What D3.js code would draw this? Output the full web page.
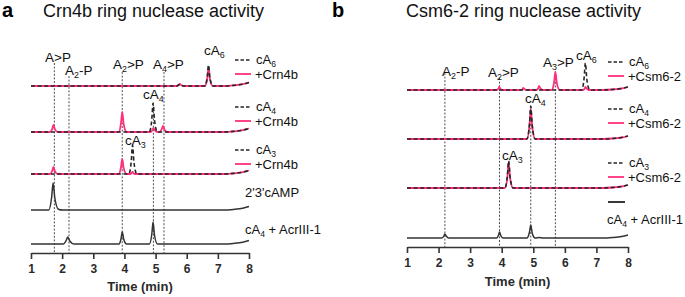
<!DOCTYPE html>
<html>
<head>
<meta charset="utf-8">
<script src="https://cdn.jsdelivr.net/npm/d3@7"></script>
<style>
  body { margin: 0; background: #fff; }
  svg { font-family: "Liberation Sans", Arial, sans-serif; }
</style>
</head>
<body>
<svg id="fig" width="685" height="297"></svg>
<script>
  var width = 685, height = 297
  var pink = "#ff2f7d", dark = "#262626"

  var timeTicks = [1, 2, 3, 4, 5, 6, 7, 8]

  // panel a traces, [time (min), signal]
  var a_cA6 = [[1,0],[5.68,0],[5.75,1.2],[5.78,2],[5.82,1],[5.9,0],[6.58,0],[6.66,9],[6.7,21],[6.745,8],[6.84,0],[7.2,0],[7.5,0.6],[7.8,1.8],[8,3.5]]
  var a_cA6_crn = [[1,0],[5.68,0],[5.75,1.2],[5.78,2],[5.82,1],[5.9,0],[6.58,0],[6.66,8],[6.7,18],[6.745,7],[6.84,0],[7.2,0],[7.5,0.6],[7.8,1.8],[8,3.5]]
  var a_cA4 = [[1,0],[4.8,0],[4.88,13],[4.92,29],[4.965,12],[5.06,0],[7.2,0],[7.5,0.6],[7.8,1.8],[8,3.5]]
  var a_cA4_crn = [[1,0],[1.61,0],[1.68,3],[1.72,7],[1.765,3],[1.85,0],[3.82,0],[3.89,9],[3.93,20],[3.975,8],[4.07,0],[4.84,0],[4.9,2],[4.93,4],[4.97,2],[5.05,0],[5.13,0],[5.2,3],[5.24,6],[5.285,2.5],[5.37,0],[7.2,0],[7.5,0.6],[7.8,1.8],[8,3.5]]
  var a_cA3 = [[1,0],[4.14,0],[4.22,13],[4.26,29],[4.305,12],[4.4,0],[7.2,0],[7.5,0.6],[7.8,1.8],[8,3.5]]
  var a_cA3_crn = [[1,0],[1.61,0],[1.68,3],[1.72,7],[1.765,3],[1.85,0],[3.82,0],[3.89,7],[3.93,15],[3.975,6],[4.07,0],[4.2,0],[4.26,2],[4.32,0],[7.2,0],[7.5,0.6],[7.8,1.8],[8,3.5]]
  var a_camp = [[1,0],[1.57,0],[1.66,12],[1.71,27],[1.765,12],[1.88,0.8],[2.02,0],[7.2,0],[7.5,0.6],[7.8,1.8],[8,3.5]]
  var a_acr = [[1,0],[2.03,0],[2.13,3.5],[2.18,7],[2.245,3],[2.38,0],[3.82,0],[3.89,5],[3.93,12],[3.975,5],[4.07,0],[4.8,0],[4.88,10],[4.92,22],[4.965,9],[5.06,0],[7.2,0],[7.5,0.6],[7.8,1.8],[8,3.5]]

  // panel b traces
  var b_cA6 = [[1,0],[6.53,0],[6.61,12],[6.65,27],[6.695,11],[6.79,0],[7.2,0],[7.5,0.5],[7.8,1.5],[8,3]]
  var b_cA6_csm = [[1,0],[3.84,0],[3.9,1.5],[3.92,3],[3.96,1.2],[4.02,0],[4.6,0],[4.66,1],[4.68,2],[4.72,1],[4.78,0],[5.1,0],[5.16,2],[5.18,4],[5.22,2],[5.3,0],[5.58,0],[5.66,8],[5.7,18],[5.745,7],[5.84,0],[6.57,0],[6.63,1.5],[6.65,3],[6.69,1.5],[6.76,0],[7.2,0],[7.5,0.5],[7.8,1.5],[8,3]]
  var b_cA4 = [[1,0],[4.8,0],[4.88,15],[4.92,33],[4.965,14],[5.06,0],[7.2,0],[7.5,0.5],[7.8,1.5],[8,3]]
  var b_cA4_csm = [[1,0],[4.8,0],[4.88,14],[4.92,30],[4.965,13],[5.06,0],[7.2,0],[7.5,0.5],[7.8,1.5],[8,3]]
  var b_cA3 = [[1,0],[4.1,0],[4.18,12],[4.22,27],[4.265,11],[4.36,0],[7.2,0],[7.5,0.5],[7.8,1.5],[8,3]]
  var b_cA3_csm = [[1,0],[4.1,0],[4.18,11],[4.22,26],[4.265,10],[4.36,0],[7.2,0],[7.5,0.5],[7.8,1.5],[8,3]]
  var b_acr = [[1,0],[2.1,0],[2.17,2],[2.2,4],[2.24,2],[2.32,0],[3.84,0],[3.9,3],[3.93,6],[3.97,2.5],[4.04,0],[4.8,0],[4.88,6],[4.92,13],[4.965,5],[5.06,0],[5.2,0.4],[5.3,0],[7.2,0],[7.5,0.5],[7.8,1.5],[8,3]]

  // reference line times
  var a_marks = [1.75, 2.22, 3.93, 4.93, 5.27]
  var b_marks = [2.2, 3.93, 4.92, 5.7]

  var svg = d3.select("#fig")

  var panels = [
    { letter: "a", lx: 2, title: "Crn4b ring nuclease activity", tx: 43, x0: 31, x1: 249, axisY: 253,
      enzyme: "+Crn4b", marks: a_marks, legX: 235,
      traces: [
        { base: 86, ctrl: a_cA6, enz: a_cA6_crn, sub: "6", legY: 60 },
        { base: 132, ctrl: a_cA4, enz: a_cA4_crn, sub: "4", legY: 107 },
        { base: 174, ctrl: a_cA3, enz: a_cA3_crn, sub: "3", legY: 150 },
        { base: 210, solid: a_camp },
        { base: 244, solid: a_acr }
      ],
      markTop: [63, 76, 72, 104, 72],
      peakLabels: [["A", "", ">P", 58, 62, "middle"], ["A", "2", "-P", 65, 75, "start"], ["A", "2", ">P", 113, 69, "start"],
                   ["A", "4", ">P", 153, 69, "start"], ["cA", "6", "", 204, 55, "start"], ["cA", "4", "", 143, 99, "start"], ["cA", "3", "", 125, 145, "start"]],
      extraLabels: [["2'3'cAMP", "", "", 245, 197], ["cA", "4", " + AcrIII-1", 245, 234]],
      timeY: 291 },
    { letter: "b", lx: 332, title: "Csm6-2 ring nuclease activity", tx: 406, x0: 407, x1: 628, axisY: 247,
      enzyme: "+Csm6-2", marks: b_marks, legX: 608,
      traces: [
        { base: 90, ctrl: b_cA6, enz: b_cA6_csm, sub: "6", legY: 62 },
        { base: 139, ctrl: b_cA4, enz: b_cA4_csm, sub: "4", legY: 109 },
        { base: 188, ctrl: b_cA3, enz: b_cA3_csm, sub: "3", legY: 163 },
        { base: 238, solid: b_acr, soloLine: 202 }
      ],
      markTop: [73, 78, 106, 71],
      peakLabels: [["A", "2", "-P", 442, 76, "start"], ["A", "2", ">P", 488, 77, "start"], ["A", "3", ">P", 543, 67, "start"],
                   ["cA", "6", "", 576, 60, "start"], ["cA", "4", "", 525, 103, "start"], ["cA", "3", "", 502, 160, "start"]],
      extraLabels: [["cA", "4", " + AcrIII-1", 607, 224]],
      timeY: 286 }
  ]

  var yh = d3.scaleLinear().domain([0, 40]).range([0, -40])

  function subText(sel, main, sub, rest, size) {
    sel.append("tspan").text(main)
    if (sub) sel.append("tspan").attr("dy", 2.5).attr("font-size", size * 0.66).text(sub)
    if (rest) sel.append("tspan").attr("dy", sub ? -2.5 : 0).text(rest)
  }

  panels.forEach(function(p) {
    var g = svg.append("g")
    var x = d3.scaleLinear().domain([1, 8]).range([p.x0, p.x1])

    g.append("text").attr("x", p.lx).attr("y", 17).attr("font-size", 20).attr("font-weight", "bold").text(p.letter)
    g.append("text").attr("x", p.tx).attr("y", 17).attr("font-size", 18).attr("fill", "#111").text(p.title)

    // dashed reference lines
    p.marks.forEach(function(m, i) {
      g.append("line").attr("x1", x(m)).attr("x2", x(m))
        .attr("y1", p.markTop[i]).attr("y2", p.axisY)
        .attr("stroke", "#222").attr("stroke-width", 0.8).attr("stroke-dasharray", "2,1.6")
    })

    p.traces.forEach(function(t) {
      var line = d3.line()
        .x(function(d) { return x(d[0]) })
        .y(function(d) { return t.base + yh(d[1]) })
        .curve(d3.curveMonotoneX)
      if (t.solid) {
        g.append("path").attr("d", line(t.solid)).attr("fill", "none")
          .attr("stroke", "#333").attr("stroke-width", 1.5)
      } else {
        g.append("path").attr("d", line(t.enz)).attr("fill", "none")
          .attr("stroke", pink).attr("stroke-width", 1.8)
        g.append("path").attr("d", line(t.ctrl)).attr("fill", "none")
          .attr("stroke", dark).attr("stroke-width", 1.6).attr("stroke-dasharray", "4,2.6")

        // legend
        var lx = p.legX, ly = t.legY
        g.append("line").attr("x1", lx).attr("x2", lx + 16).attr("y1", ly).attr("y2", ly)
          .attr("stroke", dark).attr("stroke-width", 1.6).attr("stroke-dasharray", "3.5,2")
        g.append("line").attr("x1", lx).attr("x2", lx + 16).attr("y1", ly + 14).attr("y2", ly + 14)
          .attr("stroke", pink).attr("stroke-width", 1.8)
        var lt = g.append("text").attr("x", lx + 21).attr("y", ly + 4).attr("font-size", 13).attr("fill", "#111")
        subText(lt, "cA", t.sub, "", 13)
        g.append("text").attr("x", lx + 20).attr("y", ly + 18.5).attr("font-size", 13).attr("fill", "#111").text(p.enzyme)
      }
      if (t.soloLine) {
        g.append("line").attr("x1", p.legX).attr("x2", p.legX + 17).attr("y1", t.soloLine).attr("y2", t.soloLine)
          .attr("stroke", "#222").attr("stroke-width", 1.8)
      }
    })

    p.peakLabels.forEach(function(l) {
      var tx = g.append("text").attr("x", l[3]).attr("y", l[4]).attr("font-size", 13.5)
        .attr("text-anchor", l[5]).attr("fill", "#111")
      subText(tx, l[0], l[1], l[2], 13.5)
    })
    p.extraLabels.forEach(function(l) {
      var tx = g.append("text").attr("x", l[3]).attr("y", l[4]).attr("font-size", 13).attr("fill", "#111")
      subText(tx, l[0], l[1], l[2], 13)
    })

    // time axis
    var axis = g.append("g").attr("transform", "translate(0," + p.axisY + ")")
      .call(d3.axisBottom(x).tickValues(timeTicks).tickSize(6).tickSizeOuter(0).tickFormat(d3.format("d")))
    axis.select(".domain").attr("stroke", "#333").attr("stroke-width", 1.6)
    axis.selectAll(".tick line").attr("stroke", "#333").attr("stroke-width", 1.6)
    axis.selectAll(".tick text").attr("font-size", 12).attr("font-weight", "bold").attr("fill", "#2a2a2a")
      .attr("font-family", "Liberation Sans, Arial, sans-serif").attr("dy", "0.9em")
    g.append("text").attr("x", (p.x0 + p.x1) / 2).attr("y", p.timeY).attr("text-anchor", "middle")
      .attr("font-size", 13).attr("font-weight", "bold").attr("fill", "#2a2a2a").text("Time (min)")
  })
</script>
</body>
</html>
